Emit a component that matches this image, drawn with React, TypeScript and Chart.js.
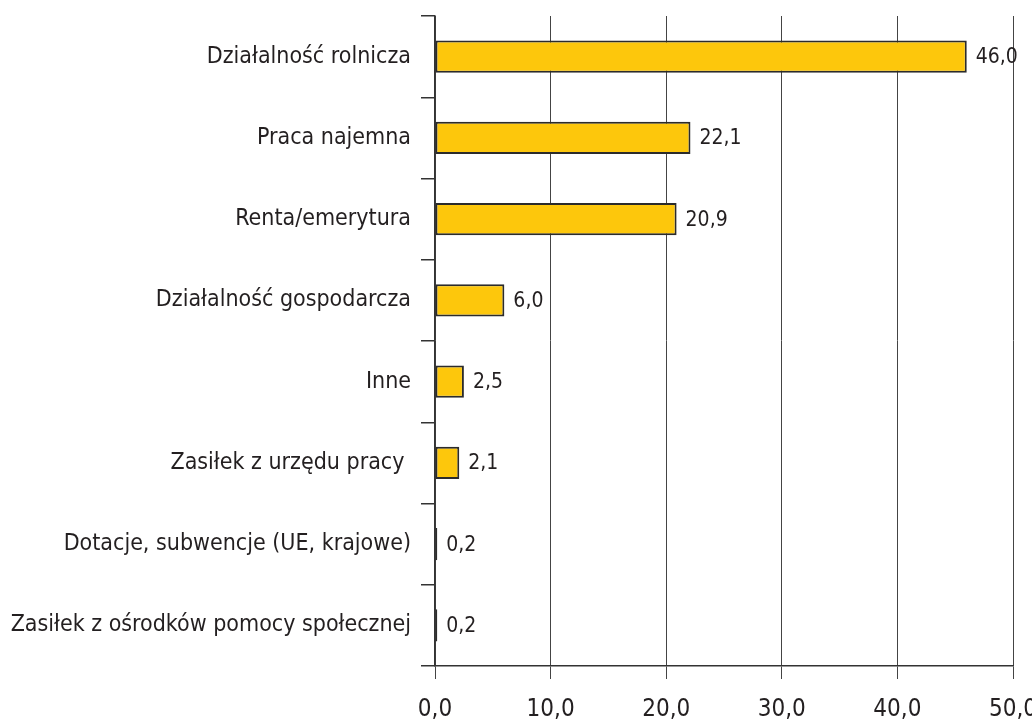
import React, { useEffect, useRef } from "react";
import { Chart, registerables } from "chart.js";

Chart.register(...registerables);

const categories = [
  "Działalność rolnicza",
  "Praca najemna",
  "Renta/emerytura",
  "Działalność gospodarcza",
  "Inne",
  "Zasiłek z urzędu pracy ",
  "Dotacje, subwencje (UE, krajowe)",
  "Zasiłek z ośrodków pomocy społecznej",
];
const values = [46.0, 22.1, 20.9, 6.0, 2.5, 2.1, 0.2, 0.2];
const xTicks = [0, 10, 20, 30, 40, 50];

const FONT = "'Liberation Sans Narrow', 'DejaVu Sans Condensed', 'Roboto Condensed', sans-serif";
const fmt = (v: number) => v.toFixed(1).replace(".", ",");

const valueLabels = {
  id: "valueLabels",
  afterDatasetsDraw(chart: any) {
    const ctx = chart.ctx;
    const meta = chart.getDatasetMeta(0);
    ctx.save();
    ctx.font = `21px ${FONT}`;
    ctx.fillStyle = "#231f20";
    ctx.textAlign = "left";
    ctx.textBaseline = "middle";
    meta.data.forEach((bar: any, i: number) => {
      ctx.fillText(fmt(values[i]), bar.x + 9, bar.y + 1);
    });
    ctx.restore();
  },
};

export default function App() {
  const ref = useRef<HTMLCanvasElement>(null);
  useEffect(() => {
    if (!ref.current) return;
    const chart = new Chart(ref.current, {
      type: "bar",
      data: {
        labels: categories,
        datasets: [
          {
            data: values,
            backgroundColor: "#fdc70c",
            borderColor: "#2b2b2b",
            borderWidth: 2,
            borderSkipped: false,
            categoryPercentage: 1,
            barPercentage: 0.395,
          },
        ],
      },
      options: {
        indexAxis: "y",
        animation: false,
        responsive: false,
        maintainAspectRatio: false,
        layout: { padding: { top: 16, right: 19, left: 0, bottom: 0 } },
        plugins: { legend: { display: false }, tooltip: { enabled: false } },
        scales: {
          x: {
            min: 0,
            max: 50,
            afterBuildTicks: (axis: any) => {
              axis.ticks = xTicks.map((v) => ({ value: v }));
            },
            afterFit: (axis: any) => {
              axis.height = 56;
              axis.paddingRight = 0;
              axis.paddingLeft = 0;
            },
            ticks: {
              callback: (v: any) => fmt(Number(v)),
              font: { family: FONT, size: 24 },
              color: "#231f20",
              padding: 16,
              maxRotation: 0,
            },
            grid: {
              color: "#444444",
              lineWidth: 1,
              tickLength: 13,
              drawTicks: true,
            },
            border: { color: "#333333", width: 1.5 },
          },
          y: {
            afterFit: (axis: any) => {
              axis.width = 435;
              axis.paddingTop = 0;
              axis.paddingBottom = 0;
            },
            ticks: {
              font: { family: FONT, size: 23 },
              color: "#231f20",
              padding: 10,
            },
            grid: {
              offset: true,
              drawOnChartArea: false,
              drawTicks: true,
              tickLength: 14,
              color: "#333333",
              lineWidth: 1.5,
            },
            border: { color: "#333333", width: 1.5 },
          },
        },
      },
      plugins: [valueLabels],
    });
    return () => chart.destroy();
  }, []);
  return (
    <div style={{ position: "fixed", left: 0, top: 0, width: 1032, height: 722, background: "#fff" }}>
      <canvas ref={ref} width={1032} height={722} />
    </div>
  );
}
